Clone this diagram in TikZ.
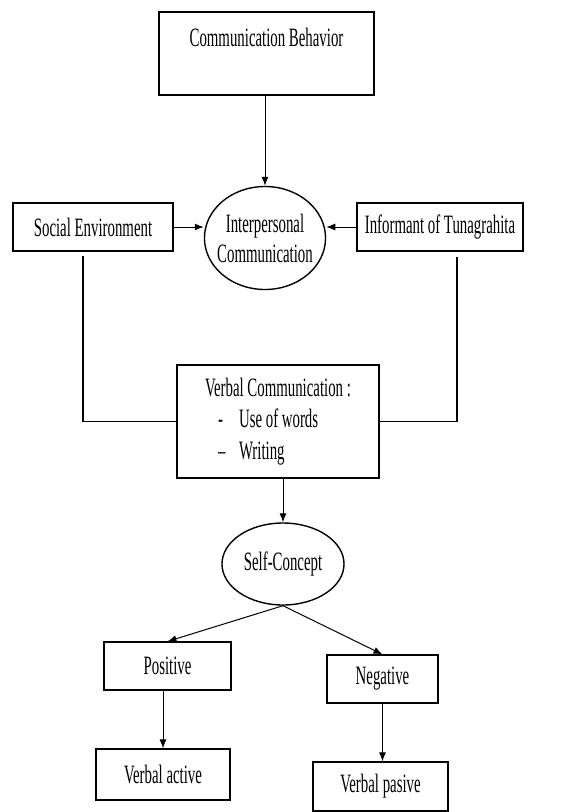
\documentclass[tikz,border=0pt]{standalone}
\usepackage{fontspec}
\setmainfont{Liberation Serif}[FakeStretch=0.56]
\usetikzlibrary{shapes.geometric, arrows.meta, positioning}
\tikzset{
	box/.style={draw, line width=1.2pt, rectangle, inner sep=0pt, font=\fontsize{26.5}{31.5}\selectfont}, % the square boxes
	oval/.style={draw, line width=1.4pt, ellipse, inner sep=0pt, align=center, font=\fontsize{26.5}{30}\selectfont}, % the round ones
	flow/.style={-{Latex[length=9pt,width=7pt]}, line width=1pt}, % arrows between nodes
	link/.style={line width=1.2pt}, % plain side lines
}

\begin{document}
\begin{tikzpicture}[x=1pt, y=-1pt]
	\useasboundingbox (0,0) rectangle (570,812);
	\node[box, minimum width=215, text height=34pt, text depth=49pt] (behavior) at (266.5,53.5) {Communication Behavior};
	\node[oval, minimum width=118, minimum height=103, inner xsep=-5pt] (inter) at (265,238) {Interpersonal\\Communication};
	\node[box, minimum width=160, minimum height=48] (social) at (93,227) {Social Environment};
	\node[box, minimum width=166, minimum height=48] (informant) at (440,227) {Informant of Tunagrahita};
	\node[box, minimum width=202, minimum height=113, align=left] (verbal) at (278,421.5) {Verbal Communication :\\\hspace*{13pt}\makebox[21pt][l]{-}Use of words\\\hspace*{13pt}\makebox[21pt][l]{--}Writing};
	\node[oval, minimum width=121, minimum height=82, inner xsep=4pt] (self) at (283,564) {Self-Concept};
	\node[box, minimum width=127, minimum height=48] (pos) at (167.5,666) {Positive};
	\node[box, minimum width=111, minimum height=48] (neg) at (382.5,679) {Negative};
	\node[box, minimum width=134, minimum height=51] (active) at (163,774.5) {Verbal active};
	\node[box, minimum width=135, minimum height=49] (pasive) at (380.5,786.5) {Verbal pasive};
	\draw[flow] (behavior.south -| inter) -- (inter.north);
	\draw[flow] (social.east) -- (social.east -| inter.west);
	\draw[flow] (informant.west) -- (informant.west -| inter.east);
	\draw[link] ([xshift=-10pt, yshift=-4pt]social.south) |- (verbal.west);
	\draw[link] ([xshift=17pt, yshift=-5pt]informant.south) |- (verbal.east);
	\draw[flow] (verbal.south -| self) -- (self.north);
	\draw[flow] (self.south) -- (pos.north);
	\draw[flow] (self.south) -- (neg.north);
	\draw[flow] (pos.south -| active) -- (active.north);
	\draw[flow] (neg.south) -- (neg.south |- pasive.north);
\end{tikzpicture}
\end{document}
